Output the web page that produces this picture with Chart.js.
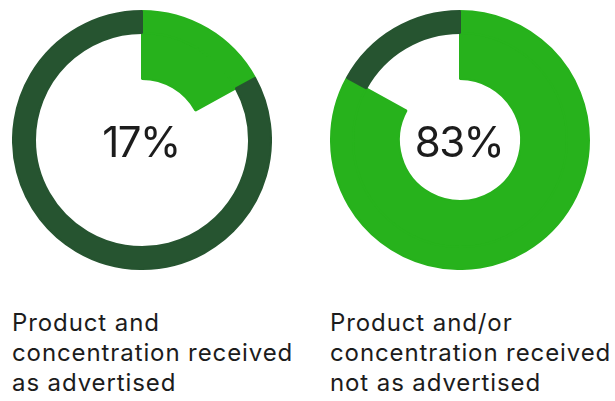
<!DOCTYPE html>
<html>
<head>
<meta charset="utf-8">
<script src="https://cdn.jsdelivr.net/npm/chart.js@4.4.1/dist/chart.umd.min.js"></script>
<style>
  html, body { margin: 0; padding: 0; background: #ffffff; }
  body { position: relative; width: 615px; height: 401px; overflow: hidden;
         font-family: Inter, "Liberation Sans", Arial, sans-serif; color: #1c1c1c; }
  .ring { position: absolute; top: 10px; width: 260px; height: 260px; }
  .caption { position: absolute; top: 308px; font-size: 24px; line-height: 30px;
             letter-spacing: 0.9px; white-space: nowrap; }
</style>
</head>
<body>
<div class="ring" style="left:12px"><canvas id="c0" width="260" height="260"></canvas></div>
<div class="ring" style="left:330px"><canvas id="c1" width="260" height="260"></canvas></div>
<div class="caption" id="cap0" style="left:12px"></div>
<div class="caption" id="cap1" style="left:330px"></div>
<script>
// Share of samples in each outcome group (percent)
const groups = ['As advertised', 'Not as advertised'];
const shares = [17, 83];
const captionLines = [
  ['Product and', 'concentration received', 'as advertised'],
  ['Product and/or', 'concentration received', 'not as advertised']
];

const LIGHT = '#27b21c';
const DARK = '#265430';
const NONE = 'rgba(0,0,0,0)';

// Writes the highlighted share in the middle of each ring
const centerValue = {
  id: 'centerValue',
  afterDraw(chart, args, opts) {
    const { ctx } = chart;
    const arc = chart.getDatasetMeta(0).data[0];
    if (!arc) return;
    ctx.save();
    ctx.font = '42px Inter, "Liberation Sans", Arial, sans-serif';
    ctx.letterSpacing = '-1.5px';
    ctx.fillStyle = '#1c1c1c';
    ctx.textAlign = 'center';
    ctx.textBaseline = 'alphabetic';
    ctx.fillText(opts.text, arc.x - 1, arc.y + 17);
    ctx.restore();
  }
};

shares.forEach((share, i) => {
  const values = [share, 100 - share];
  new Chart(document.getElementById('c' + i), {
    type: 'doughnut',
    data: {
      labels: [groups[i], 'Other'],
      datasets: [
        { // thin outer band carrying both slices
          data: values,
          backgroundColor: [LIGHT, DARK],
          borderColor: [LIGHT, DARK],
          borderWidth: 2,
          weight: 22
        },
        { // inner band only for the highlighted slice
          data: values,
          backgroundColor: [LIGHT, NONE],
          borderColor: [LIGHT, NONE],
          borderWidth: [2, 0],
          weight: 46
        }
      ]
    },
    options: {
      responsive: false,
      animation: false,
      events: [],
      cutout: 61,
      layout: { padding: 0 },
      plugins: {
        legend: { display: false },
        tooltip: { enabled: false },
        centerValue: { text: share + '%' }
      }
    },
    plugins: [centerValue]
  });
  document.getElementById('cap' + i).innerHTML = captionLines[i].join('<br>');
});
</script>
</body>
</html>
